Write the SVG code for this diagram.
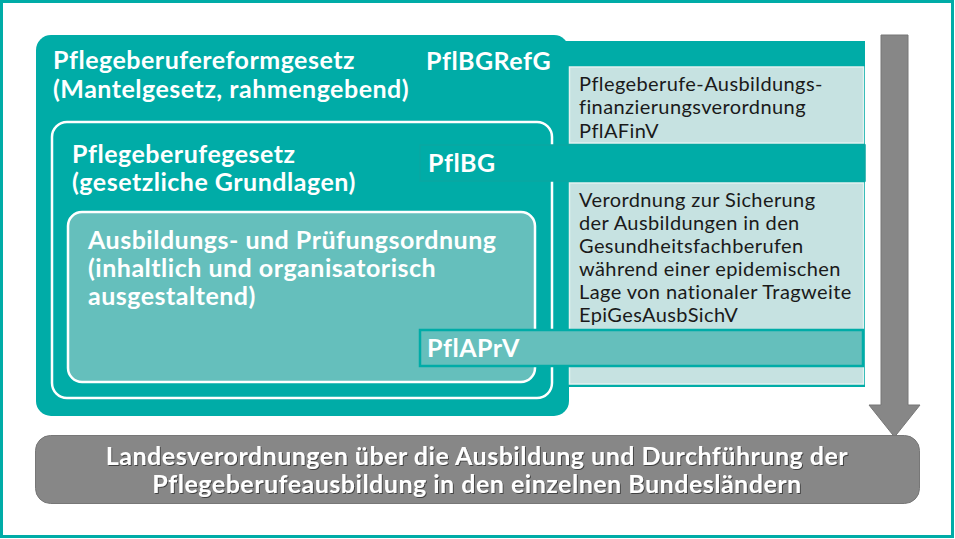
<svg xmlns="http://www.w3.org/2000/svg" width="955" height="539" viewBox="0 0 955 539">
<defs>
<style>
.teal{fill:#00aca7}
.light{fill:#c6e2e1;stroke:#e3f1f0;stroke-width:1.5}
.wt{font-family:Lato,"Open Sans","Liberation Sans",sans-serif;font-weight:bold;fill:#ffffff;font-size:25px;letter-spacing:0.5px}
.bt{font-family:Lato,"Open Sans","Liberation Sans",sans-serif;font-weight:normal;fill:#1a1a1a;font-size:20px;letter-spacing:0.4px}
</style>
<filter id="sh" x="-5%" y="-20%" width="110%" height="150%">
<feDropShadow dx="1" dy="1" stdDeviation="0.6" flood-color="#333333" flood-opacity="0.8"/>
</filter>
</defs>
<rect x="0" y="0" width="955" height="539" fill="#ffffff"/>
<rect x="1.5" y="1.5" width="951" height="535" fill="none" stroke="#00aca7" stroke-width="3"/>

<g id="pflbgrefg">
<rect class="teal" x="36" y="35" width="533" height="381" rx="15"/>
<rect class="teal" x="555" y="41" width="310" height="346"/>
<text class="wt" x="53" y="69">Pflegeberufereformgesetz</text>
<text class="wt" x="53" y="98">(Mantelgesetz, rahmengebend)</text>
<text class="wt" x="426" y="70">PflBGRefG</text>
</g>

<g id="pflafinv">
<rect class="light" x="569.5" y="67" width="294" height="76"/>
<text class="bt" x="579" y="91">Pflegeberufe-Ausbildungs-</text>
<text class="bt" x="579" y="114">finanzierungsverordnung</text>
<text class="bt" x="579" y="138">PflAFinV</text>
</g>

<g id="epigesausbsichv">
<rect class="light" x="569.5" y="183" width="294" height="201"/>
<text class="bt" x="579" y="207">Verordnung zur Sicherung</text>
<text class="bt" x="579" y="230">der Ausbildungen in den</text>
<text class="bt" x="579" y="253">Gesundheitsfachberufen</text>
<text class="bt" x="579" y="276">während einer epidemischen</text>
<text class="bt" x="579" y="299">Lage von nationaler Tragweite</text>
<text class="bt" x="579" y="322">EpiGesAusbSichV</text>
</g>

<g id="pflbg">
<rect x="52" y="122" width="500" height="276" rx="15" fill="none" stroke="#ffffff" stroke-width="2.5"/>
<text class="wt" x="72" y="163">Pflegeberufegesetz</text>
<text class="wt" x="72" y="191">(gesetzliche Grundlagen)</text>
<rect x="420" y="145" width="445" height="36" fill="#00aca7" stroke="#0aa7a2" stroke-width="1.5"/>
<text class="wt" x="428" y="172">PflBG</text>
</g>

<g id="pflaprv">
<rect x="68" y="212" width="467" height="170" rx="14" fill="#65bfbc" stroke="#ffffff" stroke-width="2.5"/>
<text class="wt" x="88" y="249">Ausbildungs- und Prüfungsordnung</text>
<text class="wt" x="88" y="277">(inhaltlich und organisatorisch</text>
<text class="wt" x="88" y="305">ausgestaltend)</text>
<rect x="420" y="330" width="443" height="36" fill="#65bfbc" stroke="#00aca7" stroke-width="2.5"/>
<text class="wt" x="427" y="357">PflAPrV</text>
</g>

<g id="connectors">
<polygon points="881,35 908,35 908,405 920,405 894.5,437 869,405 881,405" fill="#878787" stroke="#777777" stroke-width="1"/>
</g>

<g id="landesverordnungen">
<rect x="35.5" y="435.5" width="884" height="68" rx="15" fill="#878787" stroke="#777777" stroke-width="1"/>
<g filter="url(#sh)">
<text class="wt" x="477" y="465" text-anchor="middle">Landesverordnungen über die Ausbildung und Durchführung der</text>
<text class="wt" x="477" y="493" text-anchor="middle">Pflegeberufeausbildung in den einzelnen Bundesländern</text>
</g>
</g>
</svg>
